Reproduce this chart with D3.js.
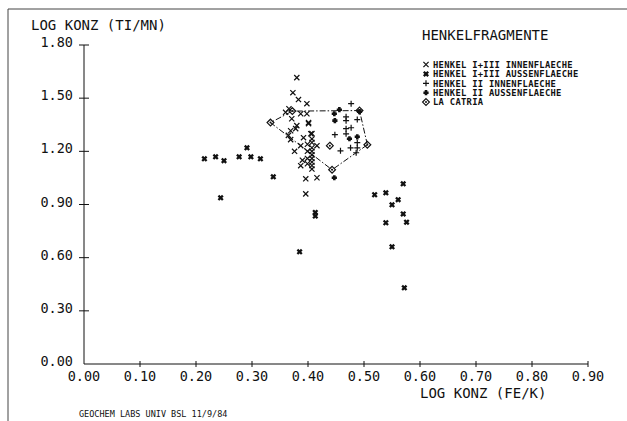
<!DOCTYPE html>
<html>
<head>
<meta charset="utf-8">
<script src="https://cdn.jsdelivr.net/npm/d3@7"></script>
<style>
  html, body { margin: 0; padding: 0; background: #fff; }
  svg { display: block; }
  text { font-family: "DejaVu Sans Mono", "Liberation Mono", monospace; fill: #111; }
</style>
</head>
<body>
<svg id="chart" width="627" height="421"></svg>
<script>
// Achsen
const X_TICKS = [0, 0.1, 0.2, 0.3, 0.4, 0.5, 0.6, 0.7, 0.8, 0.9];
const Y_TICKS = [0, 0.3, 0.6, 0.9, 1.2, 1.5, 1.8];

// HENKEL I+III INNENFLAECHE (x)
const innen13 = [
  [0.380, 1.616], [0.373, 1.531], [0.383, 1.492], [0.398, 1.469],
  [0.398, 1.412], [0.387, 1.412], [0.371, 1.384], [0.401, 1.362],
  [0.380, 1.345], [0.401, 1.356], [0.369, 1.316], [0.378, 1.328],
  [0.365, 1.290], [0.392, 1.277], [0.369, 1.266], [0.405, 1.299],
  [0.387, 1.232], [0.416, 1.232], [0.360, 1.420], [0.366, 1.440],
  [0.407, 1.300], [0.407, 1.270], [0.407, 1.250], [0.407, 1.220],
  [0.407, 1.200], [0.407, 1.180], [0.407, 1.160], [0.407, 1.140],
  [0.407, 1.120], [0.407, 1.100], [0.399, 1.240], [0.399, 1.200],
  [0.399, 1.160], [0.399, 1.130], [0.387, 1.119], [0.390, 1.150],
  [0.396, 1.045], [0.416, 1.051], [0.396, 0.960], [0.376, 1.200]
];

// HENKEL I+III AUSSENFLAECHE
const aussen13 = [
  [0.215, 1.158], [0.235, 1.169], [0.250, 1.147], [0.277, 1.169],
  [0.291, 1.220], [0.298, 1.169], [0.315, 1.158], [0.338, 1.056],
  [0.244, 0.938], [0.385, 0.633], [0.413, 0.855], [0.413, 0.835],
  [0.519, 0.955], [0.539, 0.966], [0.570, 1.017], [0.561, 0.927],
  [0.550, 0.898], [0.570, 0.847], [0.539, 0.797], [0.576, 0.800],
  [0.550, 0.661], [0.572, 0.430]
];

// HENKEL II INNENFLAECHE (+)
const innen2 = [
  [0.477, 1.469], [0.468, 1.395], [0.468, 1.373], [0.488, 1.379],
  [0.468, 1.328], [0.477, 1.333], [0.468, 1.299], [0.448, 1.294],
  [0.488, 1.249], [0.458, 1.203], [0.476, 1.220], [0.488, 1.220],
  [0.486, 1.192]
];

// HENKEL II AUSSENFLAECHE
const aussen2 = [
  [0.456, 1.435], [0.447, 1.412], [0.492, 1.424], [0.448, 1.373],
  [0.474, 1.271], [0.488, 1.282], [0.447, 1.051]
];

// LA CATRIA
const laCatria = [
  [0.333, 1.362], [0.372, 1.427], [0.492, 1.430], [0.506, 1.237],
  [0.443, 1.096], [0.439, 1.232]
];

const LEGEND = [
  'HENKEL I+III INNENFLAECHE',
  'HENKEL I+III AUSSENFLAECHE',
  'HENKEL II INNENFLAECHE',
  'HENKEL II AUSSENFLAECHE',
  'LA CATRIA'
];

const INK = '#111';
const svg = d3.select('#chart');

const x = d3.scaleLinear().domain([0, 0.9]).range([84, 588]);
const y = d3.scaleLinear().domain([0, 1.8]).range([364, 45]);
const fmt = d3.format('.2f');

/* ─── Rahmen ─── */
svg.append('path').attr('d', 'M8,421 V9 H627').attr('fill', 'none').attr('stroke', '#444').attr('stroke-width', 1);

/* ─── Achsen ─── */
svg.append('line').attr('x1', x(0)).attr('x2', x(0)).attr('y1', y(1.8)).attr('y2', y(0)).attr('stroke', INK);
svg.append('line').attr('x1', x(0)).attr('x2', x(0.9)).attr('y1', y(0)).attr('y2', y(0)).attr('stroke', INK);

Y_TICKS.forEach(v => {
  if (v > 0) svg.append('line').attr('x1', x(0) - 5).attr('x2', x(0) + 5).attr('y1', y(v)).attr('y2', y(v)).attr('stroke', INK);
  svg.append('text').attr('x', 73).attr('y', y(v) + 2).attr('text-anchor', 'end').attr('font-size', 13.5).text(fmt(v));
});

X_TICKS.forEach(v => {
  if (v > 0) svg.append('line').attr('x1', x(v)).attr('x2', x(v)).attr('y1', y(0) - 3).attr('y2', y(0) + 3).attr('stroke', INK);
  svg.append('text').attr('x', x(v)).attr('y', y(0) + 17).attr('text-anchor', 'middle').attr('font-size', 13.5).text(fmt(v));
});

svg.append('text').attr('x', 31).attr('y', 30).attr('font-size', 14).text('LOG KONZ (TI/MN)');
svg.append('text').attr('x', x(0.6)).attr('y', 398).attr('font-size', 14).text('LOG KONZ (FE/K)');
svg.append('text').attr('x', 79).attr('y', 417).attr('font-size', 8.5).text('GEOCHEM LABS UNIV BSL 11/9/84');

/* ─── Symbole ─── */
const sym = {
  cross: (g, s) => g.append('path').attr('d', `M${-s},${-s}L${s},${s}M${-s},${s}L${s},${-s}`).attr('stroke', INK).attr('stroke-width', 1.2).attr('fill', 'none'),
  boldCross: (g, s) => g.append('path').attr('d', `M${-s},${-s}L${s},${s}M${-s},${s}L${s},${-s}`).attr('stroke', INK).attr('stroke-width', 2.3).attr('fill', 'none'),
  plus: (g, s) => g.append('path').attr('d', `M${-s},0H${s}M0,${-s}V${s}`).attr('stroke', INK).attr('stroke-width', 1.2).attr('fill', 'none'),
  boldPlus: (g, s) => g.append('path').attr('d', `M${-s},0H${s}M0,${-s}V${s}`).attr('stroke', INK).attr('stroke-width', 2.6).attr('fill', 'none'),
  diamond: (g, s) => {
    g.append('path').attr('d', `M0,${-s}L${s},0L0,${s}L${-s},0Z`).attr('stroke', INK).attr('stroke-width', 1.2).attr('fill', 'none');
    g.append('circle').attr('r', 1).attr('fill', INK);
  }
};

const series = [
  { data: innen13, draw: sym.cross, size: 2.6 },
  { data: aussen13, draw: sym.boldCross, size: 2.2 },
  { data: innen2, draw: sym.plus, size: 3 },
  { data: aussen2, draw: sym.boldPlus, size: 2.6 },
  { data: laCatria, draw: sym.diamond, size: 3.4 }
];

// La Catria Umriss (strichpunktiert)
const hull = d3.polygonHull(laCatria.map(d => [x(d[0]), y(d[1])]));
svg.append('path').attr('d', 'M' + hull.join('L') + 'Z').attr('fill', 'none')
  .attr('stroke', INK).attr('stroke-width', 1).attr('stroke-dasharray', '6,2,1.5,2');

const pts = svg.append('g');
series.forEach(s => {
  s.data.forEach(d => {
    const g = pts.append('g').attr('transform', `translate(${x(d[0])},${y(d[1])})`);
    s.draw(g, s.size);
  });
});

/* ─── Legende ─── */
svg.append('text').attr('x', 422).attr('y', 40).attr('font-size', 14).text('HENKELFRAGMENTE');
const leg = svg.append('g');
LEGEND.forEach((label, i) => {
  const ly = 64.5 + i * 9.4;
  const g = leg.append('g').attr('transform', `translate(426,${ly})`);
  series[i].draw(g, series[i].size);
  leg.append('text').attr('x', 433).attr('y', ly + 3.2).attr('font-size', 8.8)
    .attr('letter-spacing', 0.3).attr('font-weight', 'bold').text(label);
});
</script>
</body>
</html>
